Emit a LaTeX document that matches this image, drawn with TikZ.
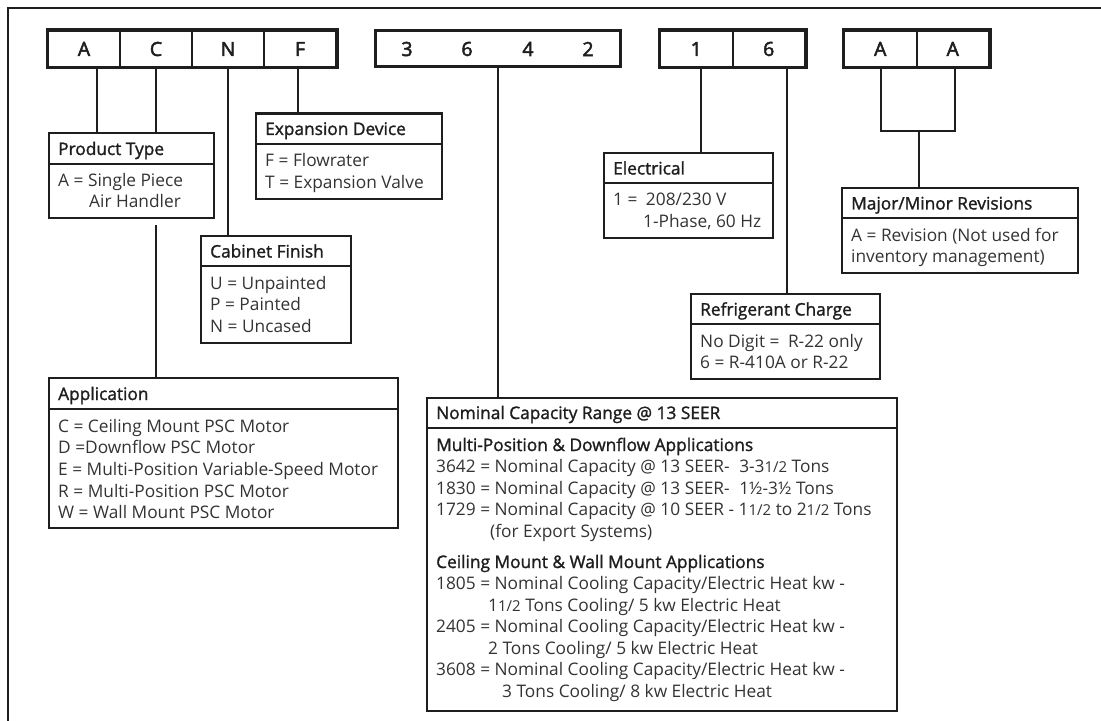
\documentclass[tikz,border=0pt]{standalone}
\usepackage{fontspec}
\setmainfont{Open Sans}
\newfontfamily\hdfont[FakeBold=1.4]{Open Sans}
\newfontfamily\topfont[FakeBold=2.6]{Open Sans}
\usetikzlibrary{calc}
\definecolor{ink}{HTML}{1E1E1E}
\definecolor{txt}{HTML}{333333}
\newcounter{tlc}
\newcommand\txtline[4]{\stepcounter{tlc}\node[#1] (tl\arabic{tlc}) at (#2,#3) {#4};}
\newcommand\fr[1]{{\fontsize{15bp}{17bp}\selectfont #1}}
\tikzset{
 frame/.style={line width=2.8bp, draw=ink},
 conn/.style={line width=2bp, draw=ink},
 cell/.style={draw=ink, line width=2bp, minimum width=72bp, minimum height=36bp, inner sep=0,
   font=\topfont\fontsize{19.5bp}{20bp}\selectfont, text=ink},
 digit/.style={inner sep=0, font=\topfont\fontsize{19.5bp}{20bp}\selectfont, text=ink},
 outer/.style={draw=ink, line width=3bp},
 infobox/.style={draw=ink, line width=2.4bp, anchor=north west, inner sep=0},
 hd/.style={anchor=base west, inner sep=0, font=\hdfont\fontsize{17.3bp}{20bp}\selectfont, text=ink},
 bd/.style={anchor=base west, inner sep=0, font=\fontsize{17.3bp}{20bp}\selectfont, text=txt},
}
\begin{document}
\begin{tikzpicture}[x=1bp,y=-1bp]
\useasboundingbox (0,0) rectangle (1101,721);
\draw[frame] (8,730) -- (8,8) -- (1110,8);

% top code boxes
\node[cell] (cA) at (84,49) {A};
\node[cell] (cC) at (156,49) {C};
\node[cell] (cN) at (228,49) {N};
\node[cell] (cF) at (300,49) {F};
\draw[outer] (cA.north west) rectangle (cF.south east);

\node[draw=ink, line width=3bp, minimum width=245bp, minimum height=36bp, inner sep=0] (num) at (497.5,49) {};
\node[digit] (d3) at (407,49) {3};
\node[digit] (d6) at (467,49) {6};
\node[digit] (d4) at (528,49) {4};
\node[digit] (d2) at (588,49) {2};

\node[cell, minimum width=72.5bp] (c1) at (696.25,49) {1};
\node[cell, minimum width=72.5bp] (c6) at (768.75,49) {6};
\draw[outer] (c1.north west) rectangle (c6.south east);

\node[cell, minimum width=72.5bp] (cA1) at (880.25,49) {A};
\node[cell, minimum width=72.5bp] (cA2) at (952.75,49) {A};
\draw[outer] (cA1.north west) rectangle (cA2.south east);

% info boxes
\node[infobox, minimum width=165bp, minimum height=85bp] (pt) at (48,132) {};
\draw[conn] (pt.west |- 0,164) -- (pt.east |- 0,164);
\txtline{hd}{58}{155}{Product Type}
\txtline{bd}{58}{187}{A = Single Piece}
\txtline{bd}{89}{207.5}{Air Handler}

\node[infobox, minimum width=186bp, minimum height=85.5bp] (ed) at (255,112.5) {};
\draw[conn] (ed.west |- 0,144) -- (ed.east |- 0,144);
\txtline{hd}{265}{135}{Expansion Device}
\txtline{bd}{265}{167}{F = Flowrater}
\txtline{bd}{265}{188.5}{T = Expansion Valve}

\node[infobox, minimum width=150bp, minimum height=107bp] (cf) at (200,235) {};
\draw[conn] (cf.west |- 0,266) -- (cf.east |- 0,266);
\txtline{hd}{210}{257.5}{Cabinet Finish}
\txtline{bd}{210}{289}{U = Unpainted}
\txtline{bd}{210}{310.5}{P = Painted}
\txtline{bd}{210}{332}{N = Uncased}

\node[infobox, minimum width=349bp, minimum height=150bp] (ap) at (48,377) {};
\draw[conn] (ap.west |- 0,409) -- (ap.east |- 0,409);
\txtline{hd}{58}{400}{Application}
\txtline{bd}{58}{432}{C = Ceiling Mount PSC Motor}
\txtline{bd}{58}{453.7}{D =Downflow PSC Motor}
\txtline{bd}{58}{475.4}{E = Multi-Position Variable-Speed Motor}
\txtline{bd}{58}{497}{R = Multi-Position PSC Motor}
\txtline{bd}{58}{518.7}{W = Wall Mount PSC Motor}

\node[infobox, minimum width=169bp, minimum height=85bp] (el) at (603,152) {};
\draw[conn] (el.west |- 0,183) -- (el.east |- 0,183);
\txtline{hd}{613}{174.5}{Electrical}
\txtline{bd}{613}{206}{1 =\hspace{4bp} 208/230 V}
\txtline{bd}{643}{227}{1-Phase, 60 Hz}

\node[infobox, minimum width=189bp, minimum height=85bp] (rc) at (690,293) {};
\draw[conn] (rc.west |- 0,324) -- (rc.east |- 0,324);
\txtline{hd}{700}{315.5}{Refrigerant Charge}
\txtline{bd}{700}{347}{No Digit =\hspace{4bp} R-22 only}
\txtline{bd}{700}{368.5}{6 = R-410A or R-22}

\node[infobox, minimum width=236bp, minimum height=85bp] (mm) at (841,187) {};
\draw[conn] (mm.west |- 0,218) -- (mm.east |- 0,218);
\txtline{hd}{851}{209.5}{Major/Minor Revisions}
\txtline{bd}{851}{241}{A = Revision (Not used for}
\txtline{bd}{851}{262.5}{inventory management)}

\node[infobox, minimum width=470bp, minimum height=313bp] (nc) at (426,397) {};
\draw[conn] (nc.west |- 0,428) -- (nc.east |- 0,428);
\txtline{hd}{436}{419}{Nominal Capacity Range @ 13 SEER}
\txtline{hd}{436}{451}{Multi-Position \& Downflow Applications}
\txtline{bd}{436}{472.5}{3642 = Nominal Capacity @ 13 SEER-\hspace{5bp} 3-3\fr{1/2} Tons}
\txtline{bd}{436}{494}{1830 = Nominal Capacity @ 13 SEER-\hspace{5bp} 1½-3½ Tons}
\txtline{bd}{436}{515.5}{1729 = Nominal Capacity @ 10 SEER - 1\fr{1/2} to 2\fr{1/2} Tons}
\txtline{bd}{490}{537}{(for Export Systems)}
\txtline{hd}{436}{568}{Ceiling Mount \& Wall Mount Applications}
\txtline{bd}{436}{589.5}{1805 = Nominal Cooling Capacity/Electric Heat kw -}
\txtline{bd}{488}{611}{1\fr{1/2} Tons Cooling/ 5 kw Electric Heat}
\txtline{bd}{436}{632.5}{2405 = Nominal Cooling Capacity/Electric Heat kw -}
\txtline{bd}{488}{654}{2 Tons Cooling/ 5 kw Electric Heat}
\txtline{bd}{436}{675.5}{3608 = Nominal Cooling Capacity/Electric Heat kw -}
\txtline{bd}{502}{697}{3 Tons Cooling/ 8 kw Electric Heat}

% connectors
\draw[conn] (97,0 |- cA.south) -- (97,0 |- pt.north);
\draw[conn] (cC.south) -- (cC.south |- pt.north);
\draw[conn] ($(cC.south |- pt.south)+(0,6)$) -- (cC.south |- ap.north);
\draw[conn] (cN.south) -- (cN.south |- cf.north);
\draw[conn] (298,0 |- cF.south) -- (298,0 |- ed.north);
\draw[conn] (num.south) -- (num.south |- nc.north);
\draw[conn] (701,0 |- c1.south) -- (701,0 |- el.north);
\draw[conn] (787,0 |- c6.south) -- (787,0 |- rc.north);
\coordinate (aj) at (919,131);
\draw[conn] (881,0 |- cA1.south) |- (aj) -| (955,0 |- cA2.south);
\draw[conn] (aj) -- (aj |- mm.north);
\end{tikzpicture}
\end{document}
